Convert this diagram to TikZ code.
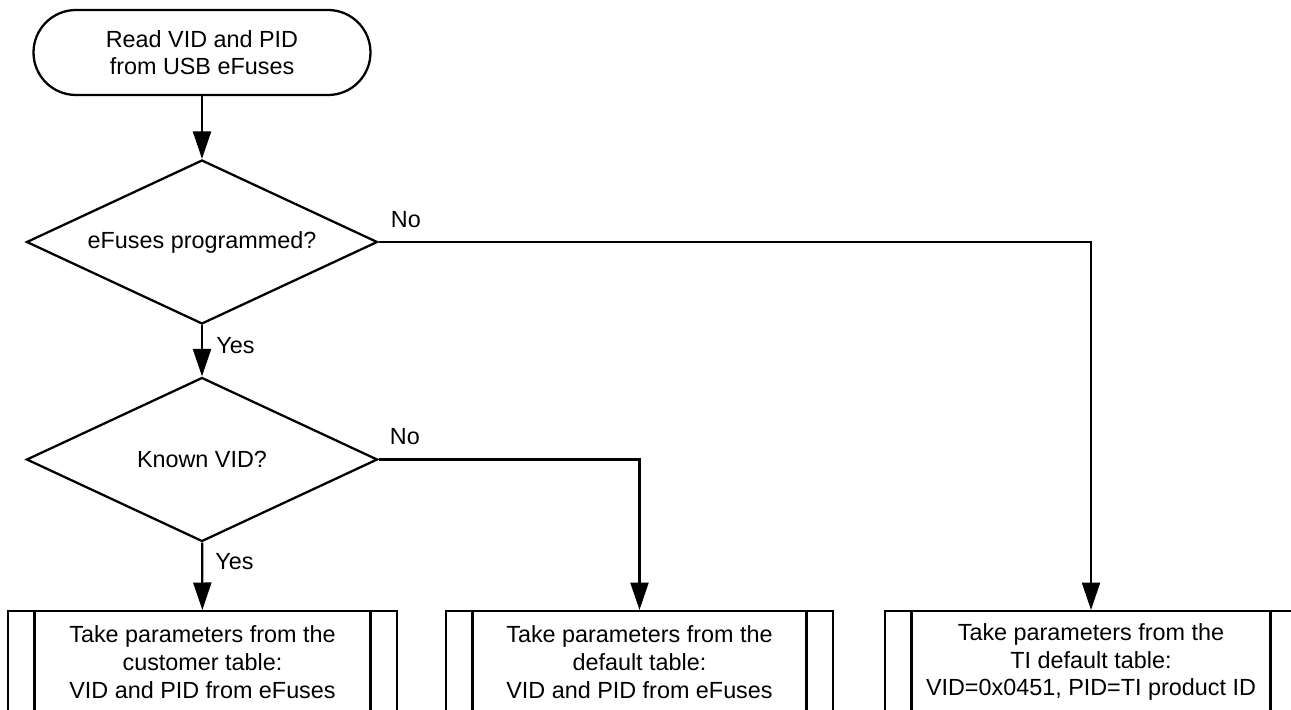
\documentclass[tikz,border=0pt]{standalone}
\usepackage{fontspec}
\setmainfont{Liberation Sans}
\usepackage{tikz}
\usetikzlibrary{positioning, shapes.geometric, arrows.meta, calc}

\begin{document}
\begin{tikzpicture}[
  term/.style={draw, line width=1.3pt, rounded corners=0.85cm, minimum width=6.74cm,
               minimum height=1.70cm, align=center, font=\fontsize{13.3}{15.7}\selectfont},
  decision/.style={draw, diamond, aspect=2.14, line width=1.3pt, inner sep=0pt,
                   minimum width=7.02cm, minimum height=3.28cm,
                   font=\fontsize{13.3}{15.7}\selectfont},
  predef/.style={draw, line width=1.3pt, anchor=north, minimum height=2.04cm,
                 align=center, font=\fontsize{13.3}{15.7}\selectfont,
                 path picture={
                   \draw[line width=1.3pt]
                     ([xshift=0.53cm]path picture bounding box.north west) --
                     ([xshift=0.53cm]path picture bounding box.south west)
                     ([xshift=-0.53cm]path picture bounding box.north east) --
                     ([xshift=-0.53cm]path picture bounding box.south east);}},
  lbl/.style={inner sep=0pt, font=\fontsize{13.3}{15.7}\selectfont},
  arrow/.style={-{Triangle[length=0.55cm, width=0.36cm]}, line width=1.3pt}
]

\useasboundingbox (0,0) rectangle (25.82,-14.2);
\clip (0,0) rectangle (25.82,-14.2);

% Start and the two questions
\node[term]     (start) at (4.04, -1.05) {Read VID and PID\\from USB eFuses};
\node[decision] (prog)  at (4.04, -4.84) {eFuses programmed?};
\node[decision] (known) at (4.04, -9.19) {Known VID?};

% Three tables (cut by the lower edge)
\node[predef, minimum width=7.78cm] (cust) at (4.05, -12.2)
  {Take parameters from the\\customer table:\\VID and PID from eFuses};
\node[predef, minimum width=7.74cm] (dflt) at (12.79, -12.2)
  {Take parameters from the\\default table:\\VID and PID from eFuses};
\node[predef, minimum width=8.24cm] (tidf) at (21.82, -12.2)
  {Take parameters from the\\TI default table:\\VID=0x0451, PID=TI product ID};

% Connectors
\draw[arrow] (start) -- (prog);
\draw[arrow] (prog) -- (known);
\draw[arrow] (known) -- (cust);
\draw[arrow] (prog.east) -| (tidf.north);
\draw[arrow] (known.east) -| (dflt.north);

% Yes / No
\node[lbl, anchor=south west] (no1)  at ([xshift=0.24cm, yshift=0.28cm]prog.east)   {No};
\node[lbl, anchor=south west] (no2)  at ([xshift=0.22cm, yshift=0.28cm]known.east)  {No};
\node[lbl, anchor=north west] (yes1) at ([xshift=0.28cm, yshift=-0.24cm]prog.south) {Yes};
\node[lbl, anchor=north west] (yes2) at ([xshift=0.26cm, yshift=-0.2cm]known.south) {Yes};

\end{tikzpicture}
\end{document}
